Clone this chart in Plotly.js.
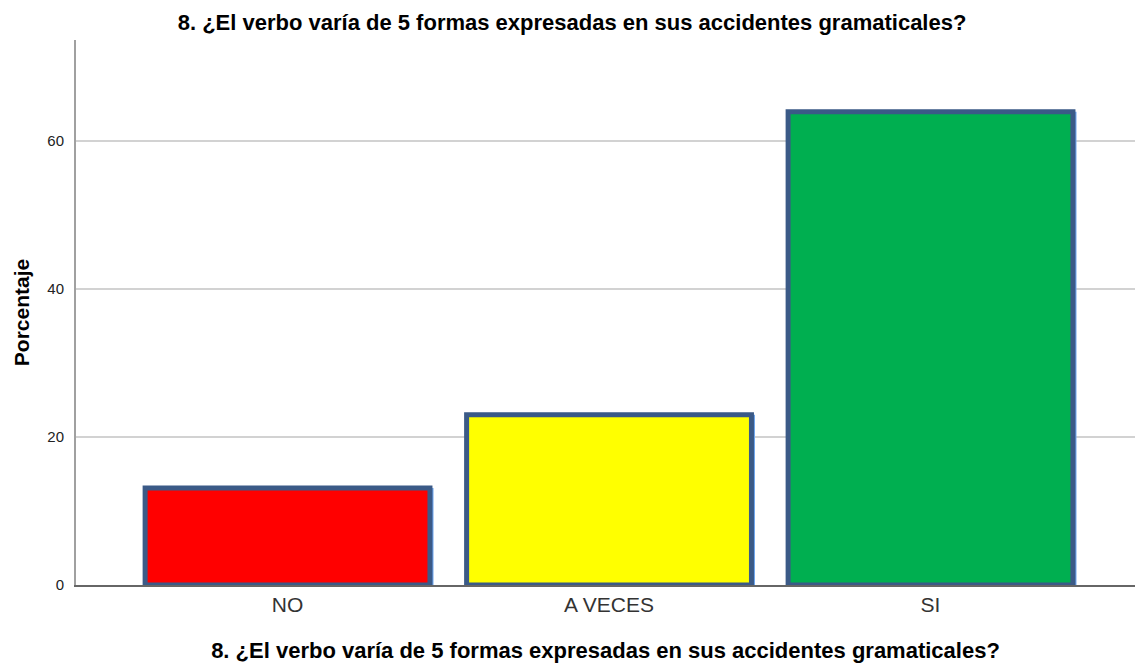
<!DOCTYPE html>
<html>
<head>
<meta charset="utf-8">
<script src="https://cdn.plot.ly/plotly-3.0.1.min.js"></script>
<style>
  html, body { margin: 0; padding: 0; background: #fff; }
  #grafica { width: 1135px; height: 664px; }
</style>
</head>
<body>
<div id="grafica"></div>
<script>
const categorias = ['NO', 'A VECES', 'SI'];
const porcentajes = [13.1, 23.0, 63.9];
const colores = ['#ff0000', '#ffff00', '#00af50'];
const ticksY = [0, 20, 40, 60];

const titulo = '8. ¿El verbo varía de 5 formas expresadas en sus accidentes gramaticales?';
const fuente = 'Liberation Sans, Arial, sans-serif';
const anchoBarra = 0.886;

// sombra azul clara, desplazada un poco a la derecha
const sombra = {
    x: categorias,
    y: porcentajes,
    type: 'bar',
    width: anchoBarra,
    offset: -anchoBarra / 2 + 0.011,
    marker: { color: '#6fa6ee', line: { width: 0 } },
    hoverinfo: 'skip',
    showlegend: false
};

const barras = {
    x: categorias,
    y: porcentajes,
    type: 'bar',
    width: anchoBarra,
    offset: -anchoBarra / 2,
    marker: {
        color: colores,
        line: { width: 5, color: '#3b5a87' }
    },
    showlegend: false
};

const layout = {
    width: 1135,
    height: 664,
    paper_bgcolor: '#fff',
    plot_bgcolor: '#fff',
    margin: { l: 76, r: 0, t: 40, b: 79 },
    barmode: 'overlay',
    font: { family: fuente, color: '#222' },
    title: {
        text: '<b>' + titulo + '</b>',
        font: { size: 22, color: '#000' },
        x: 0.504, xref: 'container', xanchor: 'center',
        y: 0.967, yref: 'container', yanchor: 'middle'
    },
    xaxis: {
        type: 'category',
        range: [-0.658, 2.636],
        showgrid: false,
        showline: true,
        linecolor: '#666',
        linewidth: 1.5,
        ticks: '',
        tickfont: { size: 21, color: '#333' },
        title: {
            text: '<b>' + titulo + '</b>',
            font: { size: 22, color: '#000' },
            standoff: 28
        }
    },
    yaxis: {
        range: [0, 73.6],
        tickvals: ticksY,
        ticktext: ticksY.map(String),
        showgrid: true,
        gridcolor: '#d2d2d2',
        gridwidth: 1.5,
        zeroline: false,
        showline: true,
        linecolor: '#a0a0a0',
        linewidth: 2,
        ticks: '',
        ticklabelstandoff: 7,
        tickfont: { size: 15, color: '#222' },
        title: {
            text: '<b>Porcentaje</b>',
            font: { size: 21, color: '#000' },
            standoff: 12
        }
    }
};

Plotly.newPlot('grafica', [sombra, barras], layout, { displayModeBar: false });
</script>
</body>
</html>
